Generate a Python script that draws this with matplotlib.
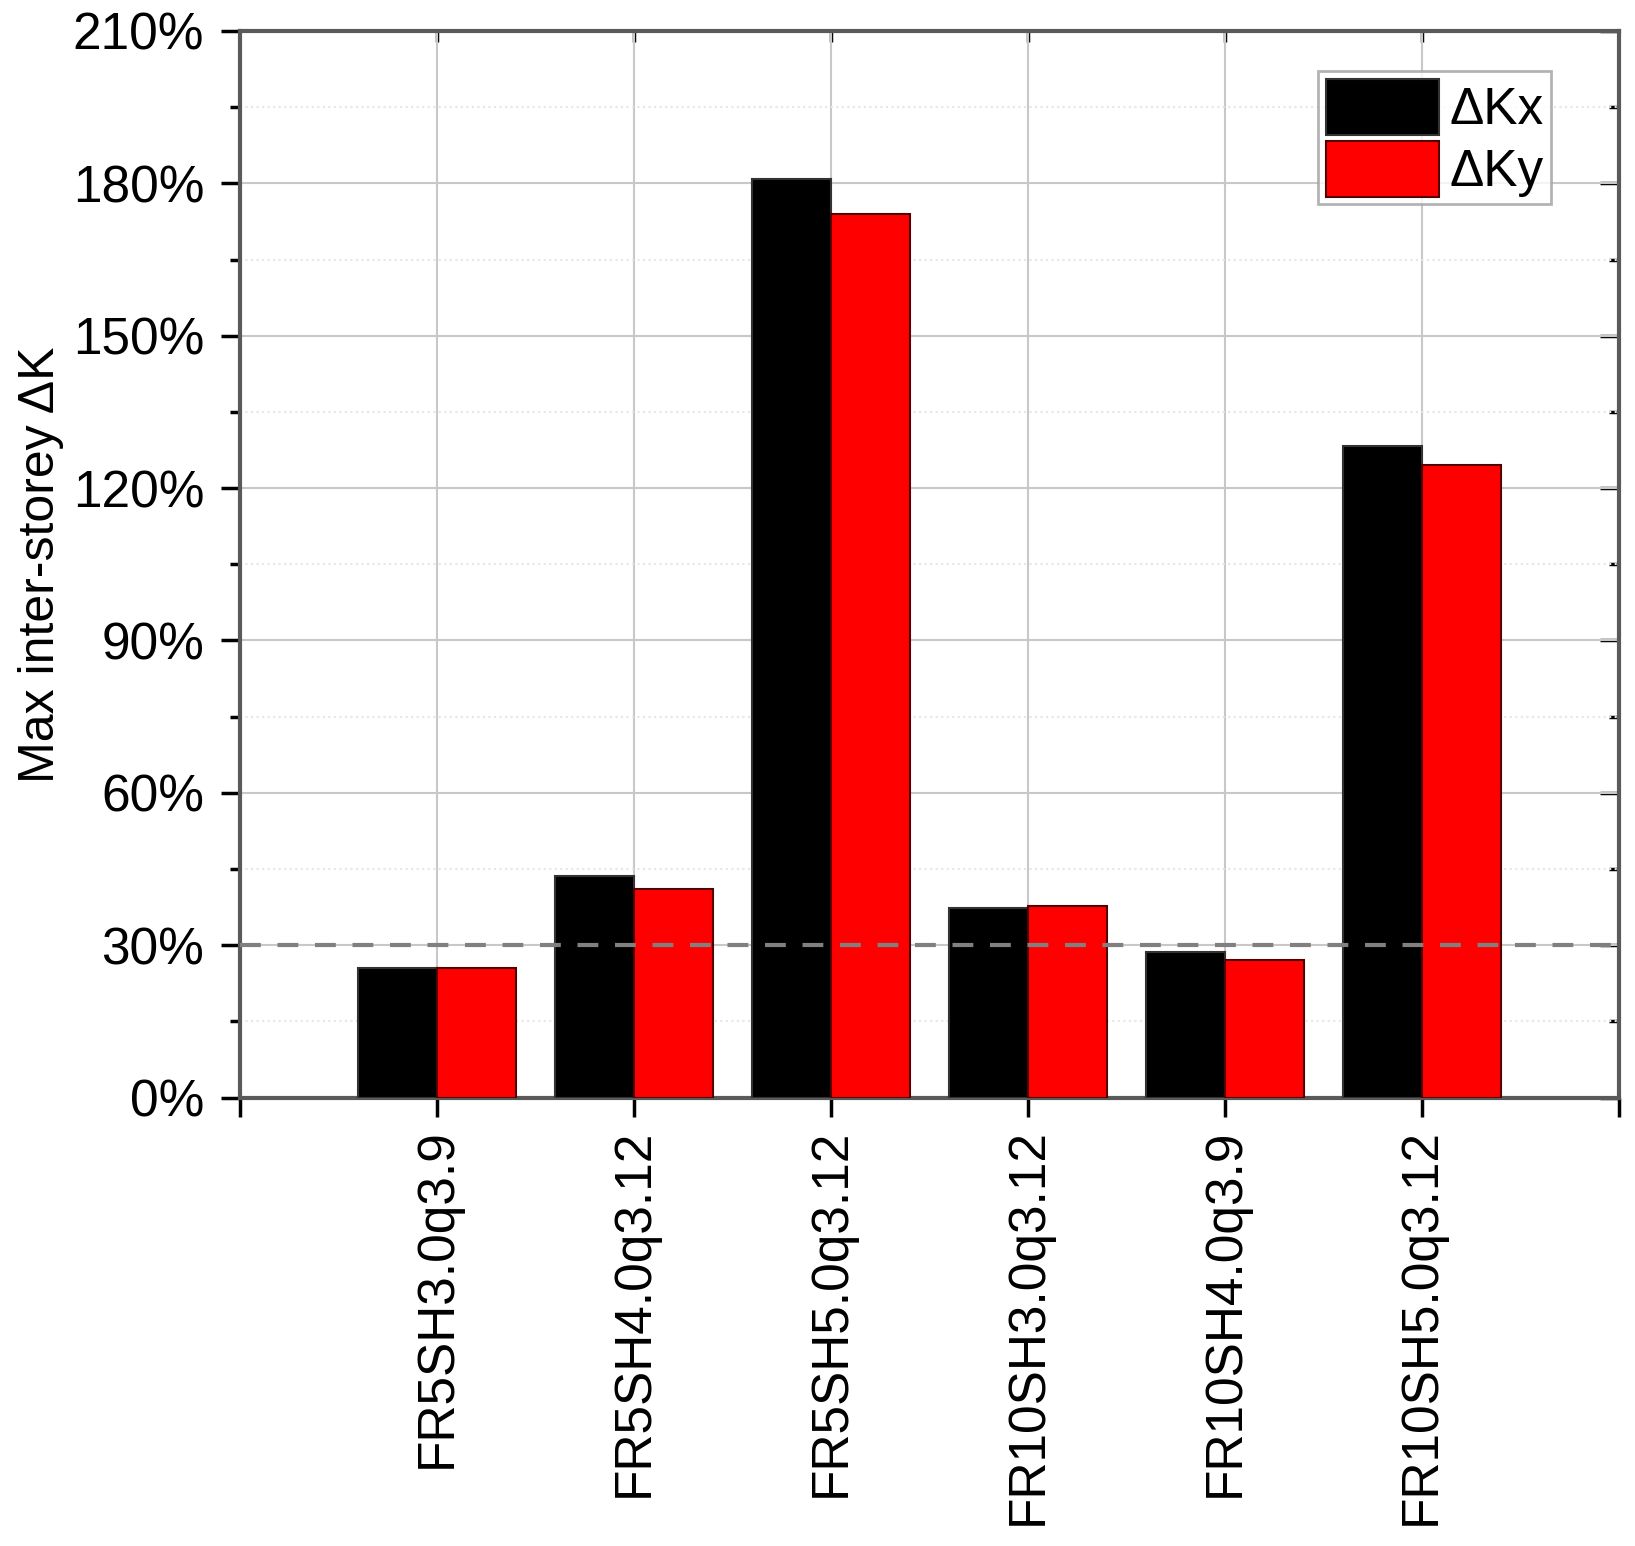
import numpy as np
import matplotlib
matplotlib.use('Agg')
import matplotlib.pyplot as plt
from matplotlib.ticker import FixedLocator, MultipleLocator, FuncFormatter, NullFormatter

plt.rcParams['font.family'] = ['Liberation Sans', 'DejaVu Sans']

# Data (percent)
cases = ['FR5SH3.0q3.9', 'FR5SH4.0q3.12', 'FR5SH5.0q3.12',
         'FR10SH3.0q3.12', 'FR10SH4.0q3.9', 'FR10SH5.0q3.12']
dkx = [25.6, 43.6, 180.8, 37.4, 28.6, 128.2]
dky = [25.5, 41.1, 174.0, 37.8, 27.1, 124.5]
limit = 30

x = np.arange(len(cases))
w = 0.4
spine_col = '#5a5a5a'

fig = plt.figure(figsize=(16.35, 15.46), dpi=100)
ax = fig.add_axes([0.147, 0.29, 0.843, 0.69])

ax.bar(x - w / 2, dkx, w, color='black', edgecolor='#333333', linewidth=1.5, label='ΔKx', zorder=3)
ax.bar(x + w / 2, dky, w, color='#ff0000', edgecolor='#550000', linewidth=1.5, label='ΔKy', zorder=3)
ax.axhline(limit, color='#808080', linestyle=(0, (5, 4)), linewidth=3, zorder=4)

ax.set_xlim(-1, 6)
ax.set_ylim(0, 210)

# ticks and grid
ax.yaxis.set_major_locator(MultipleLocator(30))
ax.yaxis.set_minor_locator(MultipleLocator(15))
ax.yaxis.set_major_formatter(FuncFormatter(lambda v, p: f'{v:.0f}%'))
ax.set_xticks(np.arange(-1, len(cases) + 1))
ax.set_xticklabels([''] + cases + [''], rotation=90)
ax.grid(True, which='major', axis='both', color='#c8c8c8', linewidth=1.5, zorder=0)
ax.grid(True, which='minor', axis='y', color='#e6e6e6', linestyle=':', linewidth=1.5, zorder=0)
ax.set_axisbelow(True)

for s in ax.spines.values():
    s.set_color(spine_col)
    s.set_linewidth(3)

ax.tick_params(axis='y', which='major', direction='out', length=14, width=2.5,
               labelsize=37, pad=12, color='black')
ax.tick_params(axis='y', which='minor', direction='out', length=7, width=2.5, color='black')
ax.tick_params(axis='x', which='major', direction='out', length=14, width=2.5,
               labelsize=37, pad=8, color='black')

# right and top: inward ticks, no labels
right = ax.secondary_yaxis('right')
right.yaxis.set_major_locator(MultipleLocator(30))
right.yaxis.set_minor_locator(MultipleLocator(15))
right.yaxis.set_major_formatter(NullFormatter())
right.tick_params(which='major', direction='in', length=14, width=2.5, color='black')
right.tick_params(which='minor', direction='in', length=7, width=2.5, color='black')
right.spines['right'].set_visible(False)

top = ax.secondary_xaxis('top')
top.xaxis.set_major_locator(FixedLocator(x))
top.xaxis.set_major_formatter(NullFormatter())
top.tick_params(which='major', direction='in', length=8, width=2.5, color='black')
top.spines['top'].set_visible(False)

ax.set_ylabel('Max inter-storey ΔK', fontsize=36, labelpad=6)

leg = ax.legend(loc='upper right', bbox_to_anchor=(0.951, 0.962), fontsize=37, frameon=True,
                fancybox=False, edgecolor='#a0a0a0', handlelength=2.2, handleheight=1.3,
                handletextpad=0.2, labelspacing=0.1, borderpad=0.15, borderaxespad=0)
leg.get_frame().set_linewidth(2)

fig.savefig('out.png', dpi=100)
